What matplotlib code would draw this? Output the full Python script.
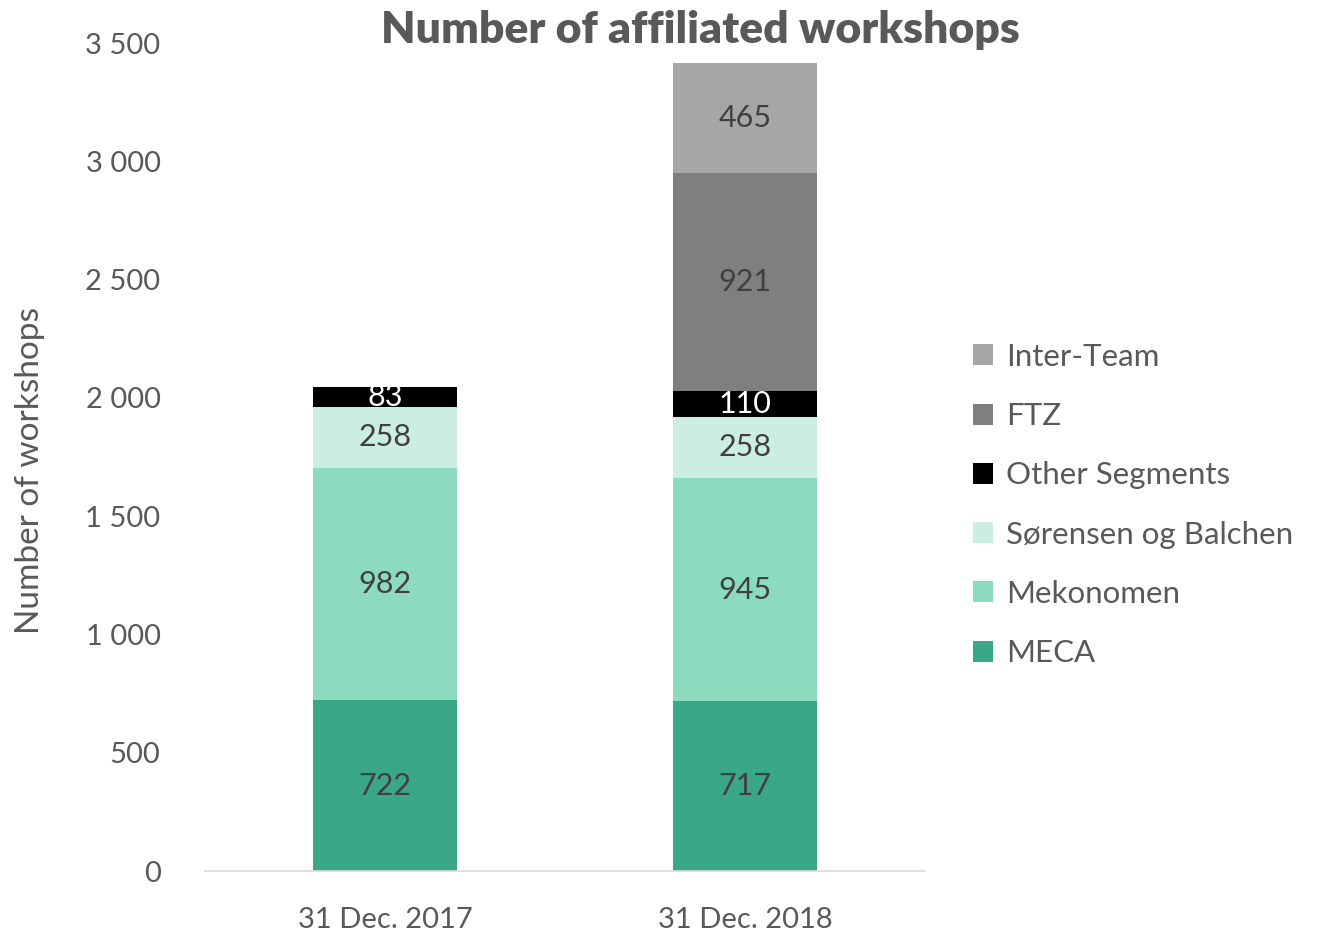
import matplotlib
matplotlib.use("Agg")
import matplotlib.pyplot as plt
import numpy as np

plt.rcParams['font.family'] = ['Lato', 'DejaVu Sans']

categories = ["31 Dec. 2017", "31 Dec. 2018"]
series_names = ["MECA", "Mekonomen", "Sørensen og Balchen", "Other Segments", "FTZ", "Inter-Team"]
meca = [722, 717]
mekonomen = [982, 945]
sorensen = [258, 258]
other = [83, 110]
ftz = [0, 921]
interteam = [0, 465]
yticks = [0, 500, 1000, 1500, 2000, 2500, 3000, 3500]
ytick_labels = ["0", "500", "1 000", "1 500", "2 000", "2 500", "3 000", "3 500"]

colors = ["#3aa886", "#8ddbbf", "#ccede1", "#000000", "#7f7f7f", "#a6a6a6"]
label_colors = ["#404040", "#404040", "#404040", "#ffffff", "#404040", "#404040"]

fig = plt.figure(figsize=(13.19, 9.31), dpi=100)
ax = fig.add_axes([205/1319, 1-871/931, 720/1319, 828/931])

x = np.arange(len(categories))
data = [meca, mekonomen, sorensen, other, ftz, interteam]
bottom = np.zeros(len(categories))
handles = []
for name, vals, c, lc in zip(series_names, data, colors, label_colors):
    vals = np.array(vals, dtype=float)
    bars = ax.bar(x, vals, 0.4, bottom=bottom, color=c, label=name)
    handles.append(bars)
    for xi, v, b in zip(x, vals, bottom):
        if v > 0:
            ax.text(xi, b + v/2, f"{int(v)}", ha='center', va='center',
                    fontsize=22, color=lc)
    bottom += vals

ax.set_xlim(-0.5, 1.5)
ax.set_ylim(0, 3500)
ax.set_yticks(yticks)
ax.set_yticklabels(ytick_labels)
ax.set_xticks(x)
ax.set_xticklabels(categories)
ax.tick_params(axis='both', length=0, labelsize=21, labelcolor='#595959')
ax.tick_params(axis='y', pad=32)
ax.tick_params(axis='x', pad=26)
for s in ['top', 'right', 'left']:
    ax.spines[s].set_visible(False)
ax.spines['bottom'].set_color('#d9d9d9')
ax.spines['bottom'].set_linewidth(1.2)

ax.set_ylabel("Number of workshops", fontsize=24, color='#595959')
ax.yaxis.set_label_coords(-0.222, 0.484)

fig.text(700/1319, 1-30/931, "Number of affiliated workshops", ha='center', va='center',
         fontsize=32, fontweight='heavy', color='#595959')

leg = fig.legend(handles[::-1], series_names[::-1], loc='center left',
                 bbox_to_anchor=(945/1319, 1-505/931), frameon=False,
                 fontsize=22.5, labelcolor='#595959', handlelength=0.65, handleheight=0.65,
                 handletextpad=0.4, labelspacing=1.0)

fig.savefig("out.png", dpi=100)
